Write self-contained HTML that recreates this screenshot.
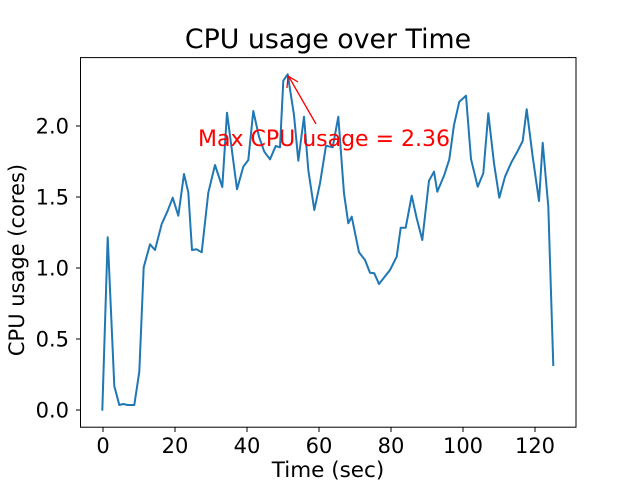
<!DOCTYPE html>
<html><head><meta charset="utf-8"><style>body{margin:0;background:#fff}svg{display:block}</style></head>
<body>
<svg width="640" height="480" xmlns="http://www.w3.org/2000/svg" font-family="'DejaVu Sans','Liberation Sans',sans-serif">
<rect width="640" height="480" fill="#fff"/>
<polyline fill="none" stroke="#1f77b4" stroke-width="2" stroke-linejoin="round" points="102.3,410.7 107.7,237.3 114.3,386 119.3,405 123.3,404 127.7,405 134.3,405 139.3,371.7 143.7,267.3 150,244.3 155,250 161.7,224 167.7,210.7 172.7,197.7 178.3,215.7 184,174 188.3,192.3 192,250 196.7,249.3 201.7,252.3 208.3,192.7 215,165 222.3,187 227,112.7 237,189.3 243.3,166.7 248.3,160 253.3,111 259,136.7 264.3,151.7 270,159.3 275.7,146 280,147.3 283.3,80.7 287.7,74.3 294,115 298.3,160.7 304,116.7 308.3,170 314.3,210 320,183.3 326,145.7 332.7,147.3 338.3,116.7 344,193.3 348.3,223.3 351.7,216.7 359,252.3 365,260 370,272.7 374.3,273.3 379,284 384.3,277.3 390,270 396.7,256.7 400.7,227.7 405.7,227.7 411.7,195.7 416.7,218.3 422.3,240 429,180.7 434,171.7 437.3,191.7 444.3,175 449.3,159.3 454,125 459.3,101.7 466,95.7 471,159 477.7,186.7 483.3,173.3 488.3,113.3 494,163.3 499.3,197.7 505,176.7 511.7,161.7 517.3,151.7 522.7,141 526.7,109.3 532.7,156.7 539,201 542.7,142.7 548.3,206.7 553.3,366"/>
<rect x="80.5" y="57.6" width="495.5" height="369.6" fill="none" stroke="#000" stroke-width="1"/>
<g stroke="#000" stroke-width="1">
<line x1="103" y1="427.2" x2="103" y2="432"/><line x1="175" y1="427.2" x2="175" y2="432"/><line x1="247" y1="427.2" x2="247" y2="432"/><line x1="319" y1="427.2" x2="319" y2="432"/><line x1="391" y1="427.2" x2="391" y2="432"/><line x1="463" y1="427.2" x2="463" y2="432"/><line x1="535" y1="427.2" x2="535" y2="432"/>
<line x1="76" y1="410" x2="80.5" y2="410"/><line x1="76" y1="339" x2="80.5" y2="339"/><line x1="76" y1="268" x2="80.5" y2="268"/><line x1="76" y1="197" x2="80.5" y2="197"/><line x1="76" y1="126" x2="80.5" y2="126"/>
</g>
<g font-size="21" text-anchor="middle" fill="#000">
<text x="103" y="453">0</text><text x="175" y="453">20</text><text x="247" y="453">40</text><text x="319" y="453">60</text><text x="391" y="453">80</text><text x="463" y="453">100</text><text x="535" y="453">120</text>
</g>
<g font-size="21" text-anchor="end" fill="#000">
<text x="69" y="417.5">0.0</text><text x="69" y="346.5">0.5</text><text x="69" y="275.5">1.0</text><text x="69" y="204.5">1.5</text><text x="69" y="133.5">2.0</text>
</g>
<text x="328" y="477" font-size="21.5" text-anchor="middle">Time (sec)</text>
<text transform="translate(24,260) rotate(-90)" font-size="21" text-anchor="middle">CPU usage (cores)</text>
<text x="328" y="48" font-size="26.8" text-anchor="middle">CPU usage over Time</text>
<text x="198" y="146" font-size="22" fill="red">Max CPU usage = 2.36</text>
<line x1="316" y1="124" x2="289" y2="77" stroke="red" stroke-width="1.3"/>
<polyline points="287,88 288,76 298,82" fill="none" stroke="red" stroke-width="1.3"/>
</svg>
</body></html>
